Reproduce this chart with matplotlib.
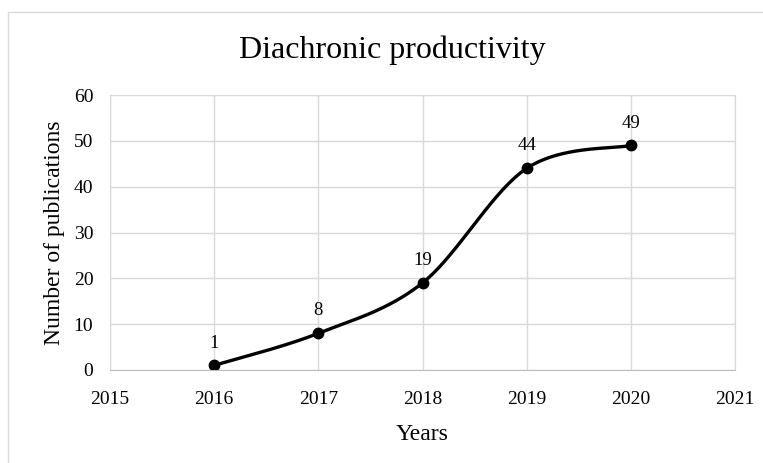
import matplotlib
matplotlib.use("Agg")
import matplotlib.pyplot as plt
import numpy as np
from matplotlib.patches import Rectangle

years = [2016, 2017, 2018, 2019, 2020]
publications = [1, 8, 19, 44, 49]
x_ticks = [2015, 2016, 2017, 2018, 2019, 2020, 2021]
y_ticks = [0, 10, 20, 30, 40, 50, 60]


def smooth(xs, ys, n=40):
    # Excel-like smoothed line (Catmull-Rom as cubic Bezier)
    p = np.column_stack([xs, ys]).astype(float)
    p = np.vstack([p[0], p, p[-1]])
    out = []
    for i in range(1, len(p) - 2):
        p0, p1, p2, p3 = p[i - 1], p[i], p[i + 1], p[i + 2]
        c1 = p1 + (p2 - p0) / 6
        c2 = p2 - (p3 - p1) / 6
        t = np.linspace(0, 1, n)[:, None]
        seg = ((1 - t) ** 3) * p1 + 3 * ((1 - t) ** 2) * t * c1 + 3 * (1 - t) * t ** 2 * c2 + t ** 3 * p2
        out.append(seg)
    out = np.vstack(out)
    return out[:, 0], out[:, 1]


plt.rcParams['font.family'] = ['Liberation Serif', 'DejaVu Serif']

fig = plt.figure(figsize=(7.63, 4.63), dpi=100)
fig.patches.append(Rectangle((8 / 763, -0.1), 1.2, 1 - 12 / 463 + 0.1, transform=fig.transFigure,
                             fill=False, edgecolor='#d9d9d9', linewidth=1))
ax = fig.add_axes([110 / 763, 1 - 370 / 463, 625 / 763, 275 / 463])

sx, sy = smooth(years, publications)
ax.plot(sx, sy, color='black', linewidth=2.4)
ax.plot(years, publications, 'o', color='black', markersize=7.5)
for x, y in zip(years, publications):
    ax.annotate(str(y), (x, y), xytext=(0, 10), textcoords='offset points',
                ha='center', va='bottom', fontsize=13.5)

ax.set_xlim(2015, 2021)
ax.set_ylim(0, 60)
ax.set_xticks(x_ticks)
ax.set_yticks(y_ticks)
ax.grid(True, color='#d9d9d9', linewidth=1)
ax.set_axisbelow(True)
for s in ['top', 'right', 'left']:
    ax.spines[s].set_color('#d9d9d9')
ax.spines['bottom'].set_color('#bfbfbf')
ax.tick_params(length=0, labelsize=14)
ax.tick_params(axis='x', pad=15)
ax.tick_params(axis='y', pad=12)
ax.set_xlabel('Years', fontsize=17, labelpad=12)
ax.set_ylabel('Number of publications', fontsize=17, labelpad=6)
fig.text(392 / 763, 1 - 50 / 463, 'Diachronic productivity', fontsize=23,
         ha='center', va='center')

fig.savefig('out.png', dpi=100)
